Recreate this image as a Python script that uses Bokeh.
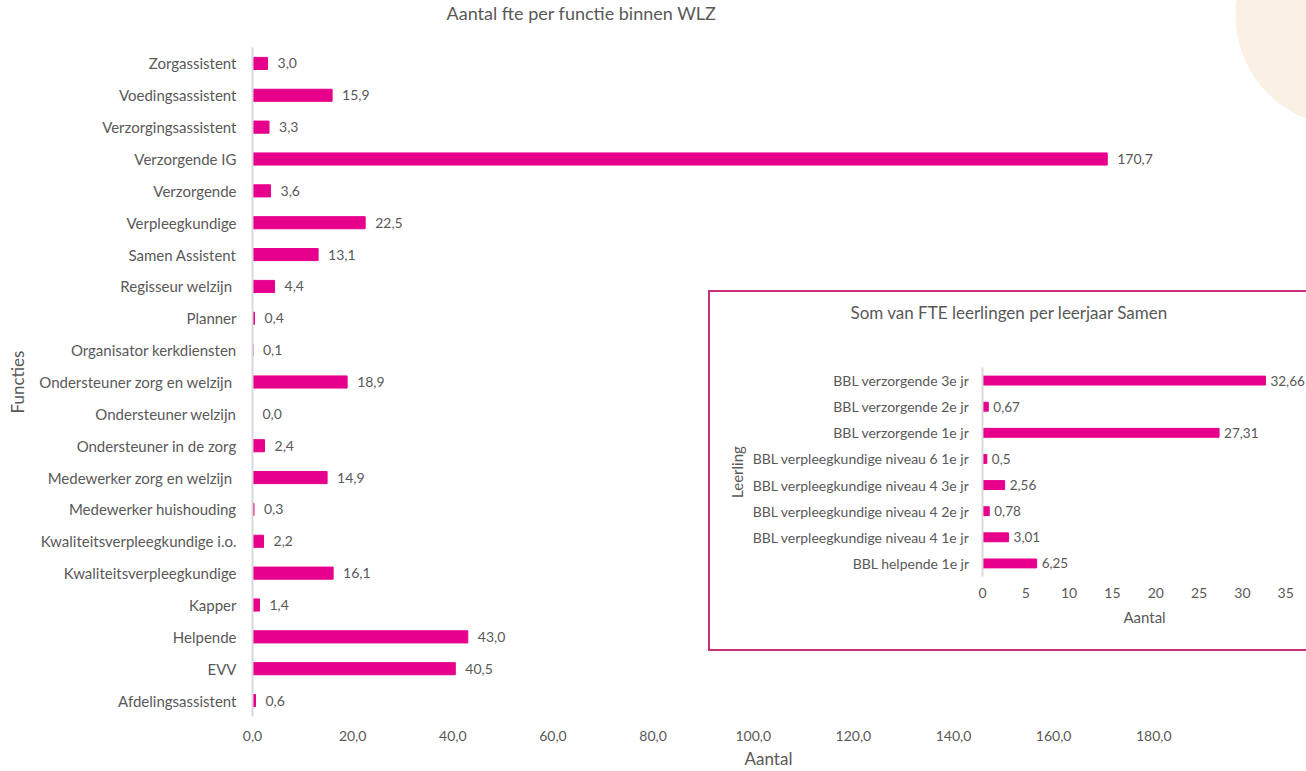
from bokeh.plotting import figure
from bokeh.layouts import column
from bokeh.models import ColumnDataSource, LabelSet, FixedTicker, Range1d, FactorRange
from bokeh.core.properties import value
from bokeh.embed import file_html
from bokeh.resources import INLINE

# ---- data: main chart ----
main_title = "Aantal fte per functie binnen WLZ"
functies = [
    "Zorgassistent", "Voedingsassistent", "Verzorgingsassistent", "Verzorgende IG",
    "Verzorgende", "Verpleegkundige", "Samen Assistent", "Regisseur welzijn ",
    "Planner", "Organisator kerkdiensten", "Ondersteuner zorg en welzijn ",
    "Ondersteuner welzijn", "Ondersteuner in de zorg", "Medewerker zorg en welzijn ",
    "Medewerker huishouding", "Kwaliteitsverpleegkundige i.o.", "Kwaliteitsverpleegkundige",
    "Kapper", "Helpende", "EVV", "Afdelingsassistent",
]
fte = [3.0, 15.9, 3.3, 170.7, 3.6, 22.5, 13.1, 4.4, 0.4, 0.1, 18.9,
       0.0, 2.4, 14.9, 0.3, 2.2, 16.1, 1.4, 43.0, 40.5, 0.6]
main_ticks = [0, 20, 40, 60, 80, 100, 120, 140, 160, 180]

# ---- data: inset chart ----
inset_title = "Som van FTE leerlingen per leerjaar Samen"
leerlingen = [
    "BBL verzorgende 3e jr", "BBL verzorgende 2e jr", "BBL verzorgende 1e jr",
    "BBL verpleegkundige niveau 6 1e jr", "BBL verpleegkundige niveau 4 3e jr",
    "BBL verpleegkundige niveau 4 2e jr", "BBL verpleegkundige niveau 4 1e jr",
    "BBL helpende 1e jr",
]
leerling_fte = [32.66, 0.67, 27.31, 0.5, 2.56, 0.78, 3.01, 6.25]
inset_ticks = [0, 5, 10, 15, 20, 25, 30, 35]

BAR = "#E6008C"
TXT = "#595959"
FONT = "Lato"
FRAME = "#C8307A"

# decorative CSS backgrounds (no data)
page_bg = "radial-gradient(circle 112px at 1347px 15px, #FAF0E3 99%, #FFFFFF 100%)"
inset_bg = ", ".join([
    f"linear-gradient({FRAME},{FRAME}) 0px 43px / 2px 361px no-repeat",
    f"linear-gradient({FRAME},{FRAME}) 0px 43px / 100% 2px no-repeat",
    f"linear-gradient({FRAME},{FRAME}) 0px 402px / 100% 2px no-repeat",
])

# ---------------- main figure ----------------
src = ColumnDataSource(dict(
    f=functies, v=fte,
    lab=[f"{x:.1f}".replace(".", ",") for x in fte],
))

p = figure(
    width=1328, height=799,
    y_range=FactorRange(*list(reversed(functies)), range_padding=0),
    x_range=Range1d(0, 206.1),
    output_backend="svg", toolbar_location=None,
    min_border_left=200, min_border_right=0, min_border_top=75, min_border_bottom=55,
    background_fill_color=None, border_fill_color=None,
    outline_line_color=None,
    margin=(-28, 0, 0, -22),
)
p.title.text = main_title
p.title.text_font = FONT
p.title.text_font_size = "18px"
p.title.text_font_style = "normal"
p.title.text_color = TXT
p.title.align = "left"
p.title.offset = 194
p.title.vertical_align = "bottom"
p.title.standoff = 48

p.hbar(y="f", right="v", left=0, height=0.38, source=src, color=BAR)
p.add_layout(LabelSet(x="v", y="f", text="lab", source=src, x_offset=10, y_offset=0,
                      text_baseline="middle", text_font=value(FONT), text_font_size="14px",
                      text_color=TXT))

p.xgrid.grid_line_color = None
p.ygrid.grid_line_color = None

p.xaxis.ticker = FixedTicker(ticks=main_ticks)
p.xaxis.major_label_overrides = {t: f"{t:.1f}".replace(".", ",") for t in main_ticks}
p.xaxis.axis_line_color = None
p.xaxis.major_label_standoff = 14
p.xaxis.axis_label = "Aantal"
p.xaxis.axis_label_standoff = 4

p.yaxis.axis_line_color = "#D9D9D9"
p.yaxis.axis_line_width = 2
p.yaxis.major_label_standoff = 16
p.yaxis.axis_label = "Functies"
p.yaxis.axis_label_standoff = 8

for ax in (p.xaxis, p.yaxis):
    ax.major_tick_line_color = None
    ax.minor_tick_line_color = None
    ax.major_tick_out = 0
    ax.minor_tick_out = 0
    ax.major_label_text_font = FONT
    ax.major_label_text_color = TXT
    ax.axis_label_text_font = FONT
    ax.axis_label_text_font_size = "17px"
    ax.axis_label_text_font_style = "normal"
    ax.axis_label_text_color = TXT
p.xaxis.major_label_text_font_size = "14px"
p.yaxis.major_label_text_font_size = "15px"

# ---------------- inset figure ----------------
isrc = ColumnDataSource(dict(
    f=leerlingen, v=leerling_fte,
    lab=[str(x).replace(".", ",") for x in leerling_fte],
))

q = figure(
    width=598, height=404,
    y_range=FactorRange(*list(reversed(leerlingen)), range_padding=0),
    x_range=Range1d(0, 37.4),
    output_backend="svg", toolbar_location=None,
    min_border_left=274, min_border_right=0, min_border_top=120, min_border_bottom=75,
    background_fill_color=None, border_fill_color=None,
    outline_line_color=None,
    styles={"position": "absolute", "left": "708px", "top": "247px", "background": inset_bg},
)
q.title.text = inset_title
q.title.text_font = FONT
q.title.text_font_size = "17px"
q.title.text_font_style = "normal"
q.title.text_color = TXT
q.title.align = "left"
q.title.offset = -132
q.title.vertical_align = "bottom"
q.title.standoff = 89

q.hbar(y="f", right="v", left=0, height=0.34, source=isrc, color=BAR)
q.add_layout(LabelSet(x="v", y="f", text="lab", source=isrc, x_offset=5, y_offset=0,
                      text_baseline="middle", text_font=value(FONT), text_font_size="13.5px",
                      text_color=TXT))
q.xgrid.grid_line_color = None
q.ygrid.grid_line_color = None

q.xaxis.ticker = FixedTicker(ticks=inset_ticks)
q.xaxis.axis_line_color = None
q.xaxis.major_label_standoff = 11
q.xaxis.axis_label = "Aantal"
q.xaxis.axis_label_standoff = 7

q.yaxis.axis_line_color = "#D9D9D9"
q.yaxis.axis_line_width = 2
q.yaxis.major_label_standoff = 13
q.yaxis.axis_label = "Leerling"
q.yaxis.axis_label_standoff = 4

for ax in (q.xaxis, q.yaxis):
    ax.major_tick_line_color = None
    ax.minor_tick_line_color = None
    ax.major_tick_out = 0
    ax.minor_tick_out = 0
    ax.major_label_text_font = FONT
    ax.major_label_text_font_size = "14px"
    ax.major_label_text_color = TXT
    ax.axis_label_text_font = FONT
    ax.axis_label_text_font_size = "15px"
    ax.axis_label_text_font_style = "normal"
    ax.axis_label_text_color = TXT

layout = column(p, q, styles={"background": page_bg})
open("out.html", "w").write(file_html(layout, INLINE))
